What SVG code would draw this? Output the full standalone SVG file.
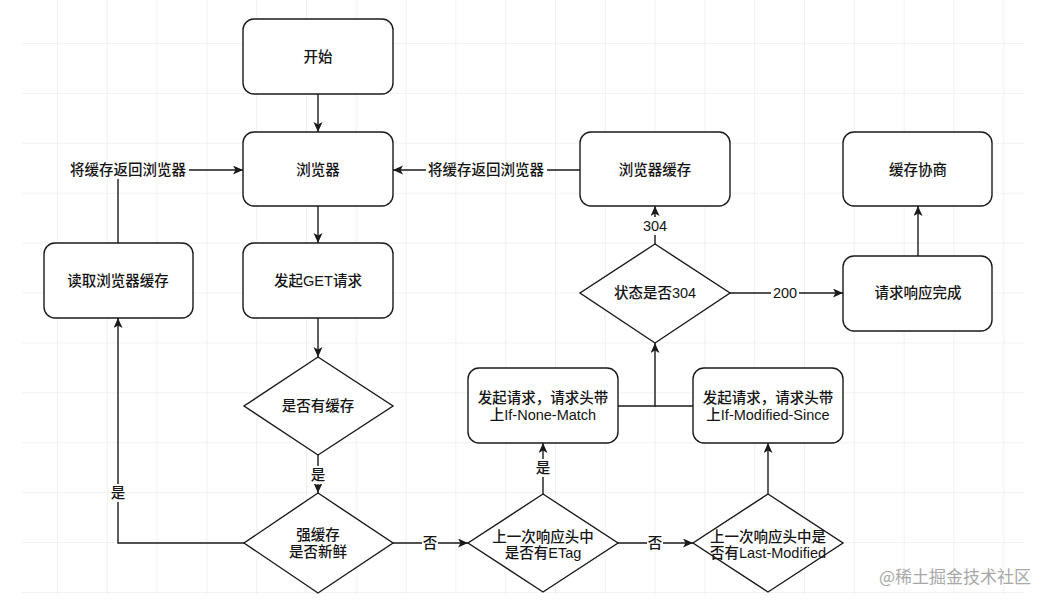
<svg xmlns="http://www.w3.org/2000/svg" width="1055" height="603" viewBox="0 0 1055 603">
<defs>
<pattern id="grid" patternUnits="userSpaceOnUse" x="7.2" y="-6.9" width="49.8" height="49.9">
<path d="M0,0 H49.8 M0,0 V49.9" fill="none" stroke="#e6e6e6" stroke-width="1.2"/>
</pattern>
<marker id="arr" markerUnits="userSpaceOnUse" markerWidth="12" markerHeight="10" refX="10" refY="4.5" orient="auto">
<path d="M0,0 L10,4.5 L0,9 L2.5,4.5 z" fill="#1a1a1a"/>
</marker>
<style>
.n{fill:#fff;stroke:#1a1a1a;stroke-width:1.4}
.t{font-family:"Liberation Sans","Noto Sans CJK SC",sans-serif;font-size:14.5px;font-weight:500;fill:#141414;text-anchor:middle;dominant-baseline:central}
.c{fill:none;stroke:#1a1a1a;stroke-width:1.4}
.lb{fill:#fff}
.wm{font-family:"Noto Sans CJK SC",sans-serif;font-size:17px;fill:#a8a8a8;text-anchor:middle;dominant-baseline:central}
</style>
</defs>
<rect width="1055" height="603" fill="#fff"/>
<rect x="22" y="0" width="1003" height="594" fill="url(#grid)"/>

<g id="connectors">
<path class="c" d="M318,94 V132" marker-end="url(#arr)"/>
<path class="c" d="M318,206 V243" marker-end="url(#arr)"/>
<path class="c" d="M318,318 V357" marker-end="url(#arr)"/>
<path class="c" d="M318,455 V493" marker-end="url(#arr)"/>
<path class="c" d="M244,543 H118 V318" marker-end="url(#arr)"/>
<path class="c" d="M118,243 V170 H243" marker-end="url(#arr)"/>
<path class="c" d="M580,170 H393" marker-end="url(#arr)"/>
<path class="c" d="M655,244 V206" marker-end="url(#arr)"/>
<path class="c" d="M730,293 H843" marker-end="url(#arr)"/>
<path class="c" d="M918,256 V206" marker-end="url(#arr)"/>
<path class="c" d="M393,543 H468" marker-end="url(#arr)"/>
<path class="c" d="M543,494 V443" marker-end="url(#arr)"/>
<path class="c" d="M618,543 H693" marker-end="url(#arr)"/>
<path class="c" d="M768,494 V443" marker-end="url(#arr)"/>
<path class="c" d="M618,406 H655 V343" marker-end="url(#arr)"/>
<path class="c" d="M693,406 H655"/>
<rect class="lb" x="310" y="466" width="16" height="18"/>
<text class="t" x="318" y="475">是</text>
<rect class="lb" x="110" y="484" width="16" height="18"/>
<text class="t" x="118" y="493">是</text>
<rect class="lb" x="67" y="161" width="122" height="18"/>
<text class="t" x="128" y="170">将缓存返回浏览器</text>
<rect class="lb" x="426" y="161" width="121" height="18"/>
<text class="t" x="486" y="170">将缓存返回浏览器</text>
<rect class="lb" x="642" y="217" width="26" height="18"/>
<text class="t" x="655" y="226">304</text>
<rect class="lb" x="771" y="284" width="28" height="18"/>
<text class="t" x="785" y="293">200</text>
<rect class="lb" x="422" y="534" width="16" height="18"/>
<text class="t" x="430" y="543">否</text>
<rect class="lb" x="535" y="459" width="16" height="18"/>
<text class="t" x="543" y="468">是</text>
<rect class="lb" x="647" y="534" width="16" height="18"/>
<text class="t" x="655" y="543">否</text>
</g>

<g id="start"><rect class="n" x="243" y="19" width="150" height="75" rx="11"/><text class="t" x="318" y="57">开始</text></g>
<g id="browser"><rect class="n" x="243" y="132" width="150" height="74" rx="11"/><text class="t" x="318" y="170">浏览器</text></g>
<g id="get"><rect class="n" x="243" y="243" width="150" height="75" rx="11"/><text class="t" x="318" y="281">发起GET请求</text></g>
<g id="read-cache"><rect class="n" x="44" y="243" width="149" height="75" rx="11"/><text class="t" x="118" y="281">读取浏览器缓存</text></g>
<g id="has-cache"><path class="n" d="M318,357 L393,406 L318,455 L244,406 Z"/><text class="t" x="318" y="406">是否有缓存</text></g>
<g id="fresh"><path class="n" d="M318,493 L393,543 L318,593 L244,543 Z"/><text class="t" x="318" y="535">强缓存</text><text class="t" x="318" y="552">是否新鲜</text></g>
<g id="browser-cache"><rect class="n" x="580" y="132" width="150" height="74" rx="11"/><text class="t" x="655" y="170">浏览器缓存</text></g>
<g id="is304"><path class="n" d="M655,244 L730,293 L655,343 L580,293 Z"/><text class="t" x="655" y="293">状态是否304</text></g>
<g id="negotiate"><rect class="n" x="843" y="132" width="149" height="74" rx="11"/><text class="t" x="918" y="170">缓存协商</text></g>
<g id="done"><rect class="n" x="843" y="256" width="149" height="75" rx="11"/><text class="t" x="918" y="293">请求响应完成</text></g>
<g id="inm"><rect class="n" x="468" y="368" width="150" height="75" rx="11"/><text class="t" x="543" y="398">发起请求，请求头带</text><text class="t" x="543" y="415">上If-None-Match</text></g>
<g id="ims"><rect class="n" x="693" y="368" width="150" height="75" rx="11"/><text class="t" x="768" y="398">发起请求，请求头带</text><text class="t" x="768" y="415">上If-Modified-Since</text></g>
<g id="etag"><path class="n" d="M543,494 L618,543 L543,592 L468,543 Z"/><text class="t" x="543" y="537">上一次响应头中</text><text class="t" x="543" y="553">是否有ETag</text></g>
<g id="lastmod"><path class="n" d="M768,494 L843,543 L768,592 L693,543 Z"/><text class="t" x="768" y="537">上一次响应头中是</text><text class="t" x="768" y="553">否有Last-Modified</text></g>
<text class="wm" x="955" y="575">@稀土掘金技术社区</text>
</svg>
